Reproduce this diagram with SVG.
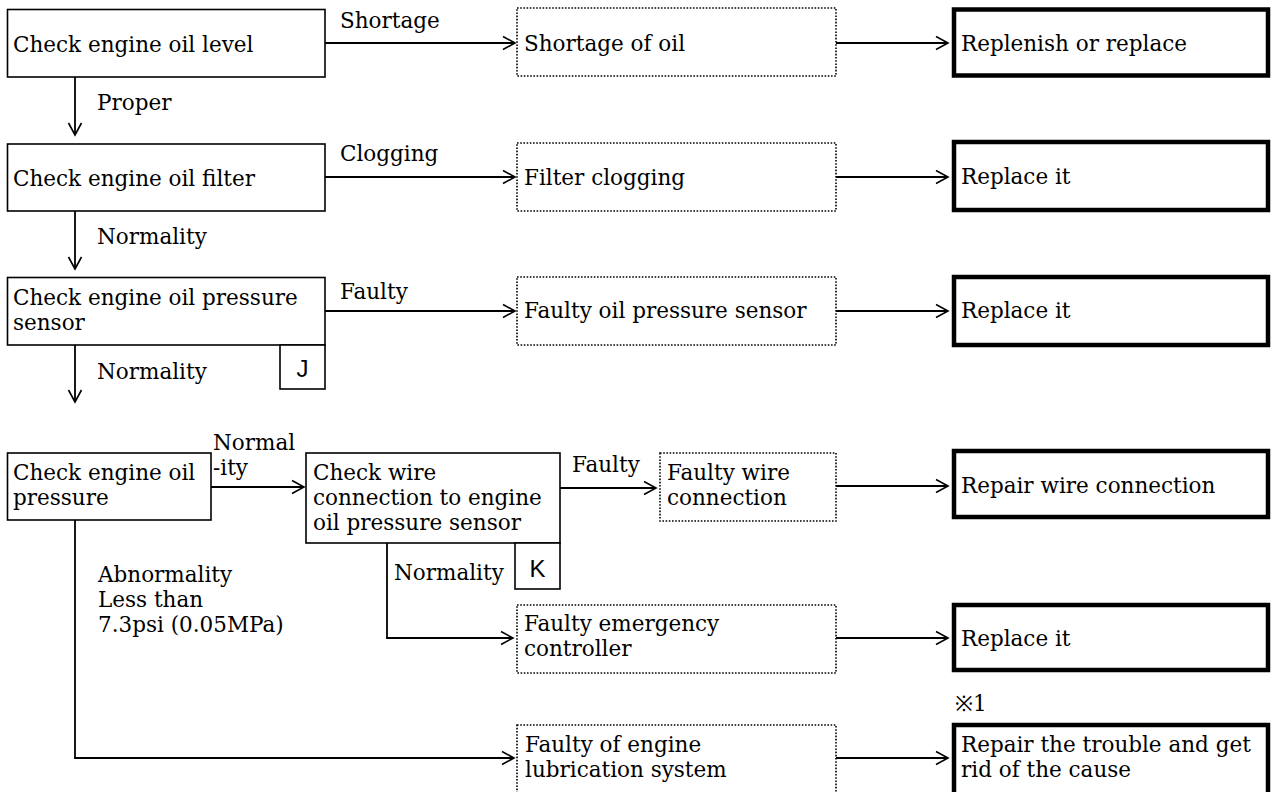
<svg xmlns="http://www.w3.org/2000/svg" width="1272" height="792" viewBox="0 0 1272 792">
<defs>
<marker id="arr" markerUnits="userSpaceOnUse" markerWidth="16" markerHeight="16" viewBox="-12 -8 14 16" refX="0" refY="0" orient="auto" overflow="visible">
<path d="M-12,-6.5 L0,0 L-12,6.5" fill="none" stroke="#000" stroke-width="1.6"/>
</marker>
</defs>
<style>
text{font-family:"DejaVu Serif","Liberation Serif",serif;font-size:21.5px;fill:#000}
.sans{font-family:"Liberation Sans",Arial,sans-serif;font-size:24px}
.box{fill:#fff;stroke:#000;stroke-width:1.6}
.dot{fill:#fff;stroke:#000;stroke-width:1.6;stroke-dasharray:1.6 1.6}
.thick{fill:#fff;stroke:#000;stroke-width:4.5}
.ln{fill:none;stroke:#000;stroke-width:1.8}
.ar{marker-end:url(#arr)}
</style>
<rect width="1272" height="792" fill="#fff"/>
<g id="connectors">
<path class="ln ar" d="M325,43 H515"/>
<path class="ln ar" d="M836,43 H948"/>
<path class="ln ar" d="M75,77 V135"/>
<path class="ln ar" d="M325,177 H515"/>
<path class="ln ar" d="M836,177 H948"/>
<path class="ln ar" d="M75,211 V269"/>
<path class="ln ar" d="M325,311 H515"/>
<path class="ln ar" d="M836,311 H948"/>
<path class="ln ar" d="M75,345 V402"/>
<path class="ln ar" d="M211,487 H304"/>
<path class="ln ar" d="M560,488 H656"/>
<path class="ln ar" d="M836,486 H948"/>
<path class="ln ar" d="M387,543 V638 H513"/>
<path class="ln ar" d="M836,638 H948"/>
<path class="ln ar" d="M75,520 V758 H514"/>
<path class="ln ar" d="M836,758 H948"/>
<text x="340" y="28">Shortage</text>
<text x="97" y="110">Proper</text>
<text x="340" y="161">Clogging</text>
<text x="97" y="244">Normality</text>
<text x="340" y="299">Faulty</text>
<text x="97" y="379">Normality</text>
<text x="213" y="450">Normal</text>
<text x="213" y="475">-ity</text>
<text x="572" y="472">Faulty</text>
<text x="394" y="580">Normality</text>
<text x="98" y="582">Abnormality</text>
<text x="98" y="607">Less than</text>
<text x="98" y="632">7.3psi (0.05MPa)</text>
</g>
<g id="n1"><rect class="box" x="7.5" y="9.5" width="317.5" height="67.5"/><text x="13" y="52">Check engine oil level</text></g>
<g id="n2"><rect class="box" x="7.5" y="144" width="317.5" height="67"/><text x="13" y="186">Check engine oil filter</text></g>
<g id="n3"><rect class="box" x="7.5" y="277.5" width="317.5" height="67.5"/><text x="13" y="305">Check engine oil pressure</text><text x="13" y="330">sensor</text></g>
<g id="j"><rect class="box" x="280" y="345" width="45" height="44"/><text class="sans" x="302.5" y="377" text-anchor="middle">J</text></g>
<g id="n4"><rect class="box" x="7.5" y="453" width="203.5" height="67"/><text x="13" y="480">Check engine oil</text><text x="13" y="505">pressure</text></g>
<g id="n5"><rect class="box" x="306" y="453" width="254" height="90"/><text x="313" y="480">Check wire</text><text x="313" y="505">connection to engine</text><text x="313" y="530">oil pressure sensor</text></g>
<g id="k"><rect class="box" x="515" y="543" width="45" height="46"/><text class="sans" x="537.5" y="577" text-anchor="middle">K</text></g>
<g id="d1"><rect class="dot" x="517" y="8" width="319" height="68"/><text x="524" y="51">Shortage of oil</text></g>
<g id="d2"><rect class="dot" x="517" y="143" width="319" height="68"/><text x="524" y="185">Filter clogging</text></g>
<g id="d3"><rect class="dot" x="517" y="277" width="319" height="68"/><text x="524" y="318">Faulty oil pressure sensor</text></g>
<g id="d4"><rect class="dot" x="660" y="453" width="176" height="68"/><text x="667" y="480">Faulty wire</text><text x="667" y="505">connection</text></g>
<g id="d5"><rect class="dot" x="517" y="605" width="319" height="68"/><text x="524" y="631">Faulty emergency</text><text x="524" y="656">controller</text></g>
<g id="d6"><rect class="dot" x="517" y="725" width="319" height="80"/><text x="525" y="752">Faulty of engine</text><text x="525" y="777">lubrication system</text></g>
<g id="t1"><rect class="thick" x="954" y="9.5" width="314" height="66"/><text x="961" y="51">Replenish or replace</text></g>
<g id="t2"><rect class="thick" x="954" y="142" width="314" height="68"/><text x="961" y="184">Replace it</text></g>
<g id="t3"><rect class="thick" x="954" y="277" width="314" height="68"/><text x="961" y="318">Replace it</text></g>
<g id="t4"><rect class="thick" x="954" y="451" width="314" height="66"/><text x="961" y="493">Repair wire connection</text></g>
<g id="t5"><rect class="thick" x="954" y="605" width="314" height="65"/><text x="961" y="646">Replace it</text></g>
<text x="955" y="711">※1</text>
<g id="t6"><rect class="thick" x="954" y="725" width="314" height="80"/><text x="961" y="752">Repair the trouble and get</text><text x="961" y="777">rid of the cause</text></g>
</svg>
